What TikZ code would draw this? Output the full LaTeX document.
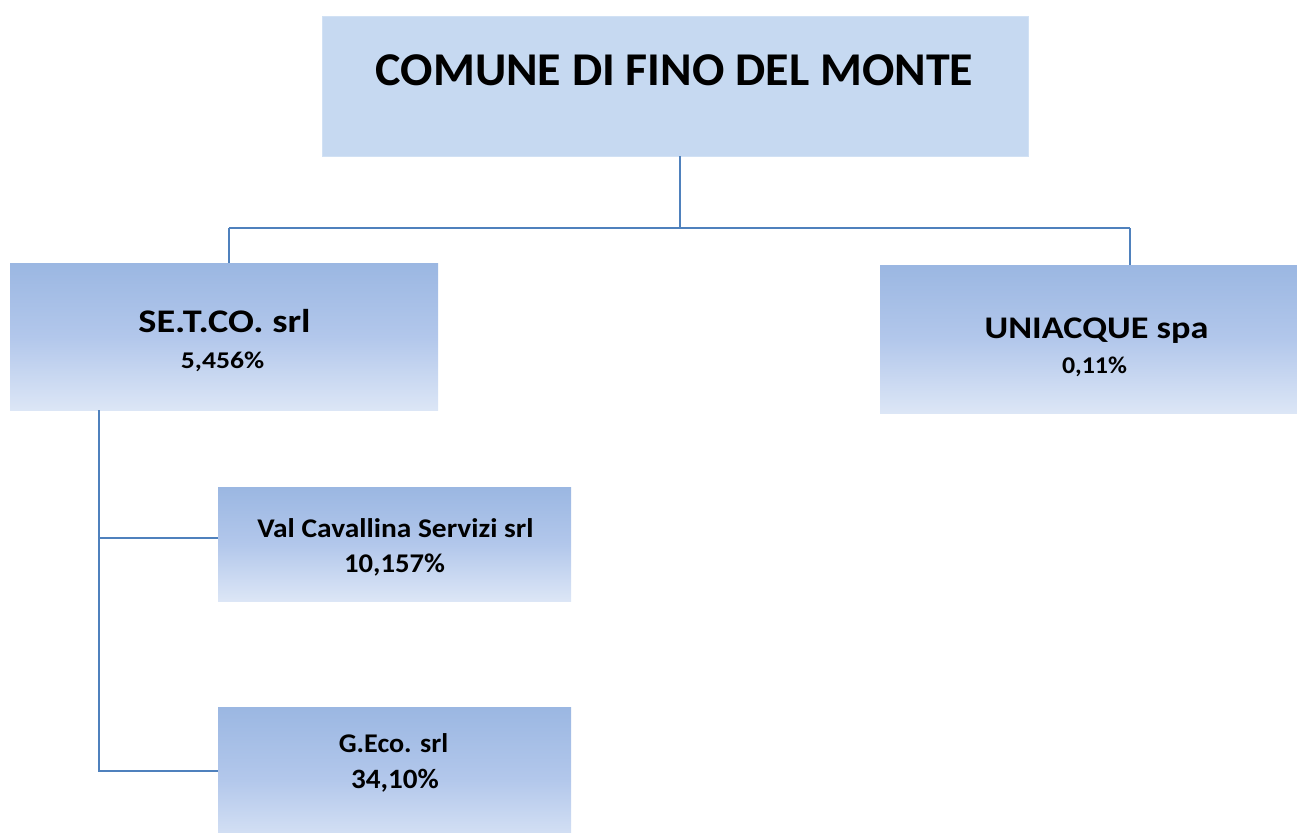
\documentclass[tikz,border=0pt]{standalone}
\usepackage{fontspec}
\setmainfont{Carlito}
\definecolor{topfill}{RGB}{198,217,241}
\definecolor{gtop}{RGB}{155,183,226}
\definecolor{gmid}{RGB}{178,199,235}
\definecolor{gbot}{RGB}{220,230,246}
\definecolor{conn}{RGB}{79,129,189}
\tikzset{
  topbox/.style={fill=topfill, draw=topfill!80!white, line width=0.8pt, inner sep=0pt},
  gradbox/.style={top color=gtop, bottom color=gbot, middle color=gmid, draw=none, inner sep=0pt},
  link/.style={draw=conn, line width=1.5pt},
  lbl/.style={anchor=base, inner sep=0pt},
}
\newcommand{\mylab}[3]{\scalebox{#2}[1]{\fontsize{#1}{#1}\selectfont\bfseries #3}}
\begin{document}
\begin{tikzpicture}[x=1pt,y=-1pt]
\useasboundingbox (0,0) rectangle (1297,832);
% boxes
\node[topbox, minimum width=706pt, minimum height=140pt] (top) at (675,86) {};
\node[gradbox, minimum width=428pt, minimum height=147pt] (setco) at (224,336.5) {};
\node[gradbox, minimum width=417pt, minimum height=148pt] (uni) at (1088.5,339) {};
\node[gradbox, minimum width=353pt, minimum height=114pt] (val) at (394.5,544) {};
\path[gradbox] (218,707) rectangle (571,850);
\node[inner sep=0pt, minimum width=353pt, minimum height=125pt] (geco) at (394.5,769.5) {};
% labels
\node[lbl] (tt) at (674.5,86) {\mylab{47}{1.02}{COMUNE DI FINO DEL MONTE}};
\node[lbl] (s1) at (224.5,332) {\mylab{33}{1.16}{SE.T.CO. srl}};
\node[lbl] (s2) at (222.5,368) {\mylab{24}{1.15}{5,456\%}};
\node[lbl] (u1) at (1096.5,338) {\mylab{31.5}{1.15}{UNIACQUE spa}};
\node[lbl] (u2) at (1094.5,373) {\mylab{24}{1.08}{0,11\%}};
\node[lbl] (v1) at (395.5,537) {\mylab{27}{1.09}{Val Cavallina Servizi srl}};
\node[lbl] (v2) at (394.5,572) {\mylab{27}{1.06}{10,157\%}};
\node[lbl] (g1) at (393.5,752) {\mylab{27}{1.04}{G.Eco. srl}};
\node[lbl] (g2) at (395,788) {\mylab{28}{1.04}{34,10\%}};
% connectors
\coordinate (bus) at (680,228);
\coordinate (busL) at (229,228);
\coordinate (busR) at (1130,228);
\coordinate (trunk) at (99,410);
\coordinate (jv) at (99,538);
\coordinate (jg) at (99,771);
\draw[link] (top.south -| bus) -- (bus);
\draw[link] (busL) -- (busR);
\draw[link] (busL) -- (busL |- setco.north);
\draw[link] (busR) -- (busR |- uni.north);
\draw[link] (trunk |- setco.south) -- (jg) -- (jg -| geco.west);
\draw[link] (jv) -- (jv -| val.west);
\end{tikzpicture}
\end{document}
